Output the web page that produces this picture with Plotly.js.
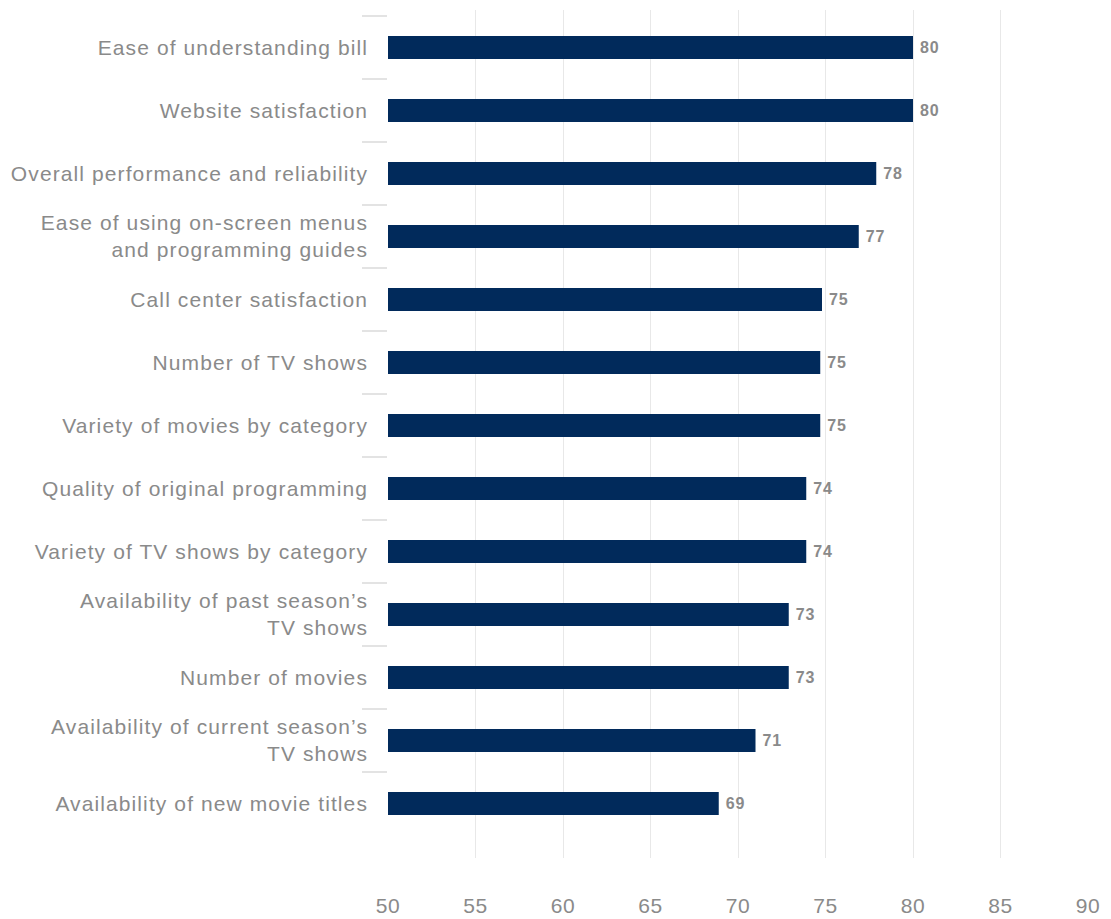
<!DOCTYPE html>
<html>
<head>
<meta charset="utf-8">
<script src="https://cdn.plot.ly/plotly-3.0.1.min.js"></script>
<style>
html,body{margin:0;padding:0;background:#fff;}
#chart{width:1111px;height:919px;}
#chart .ytick text{letter-spacing:1.1px;}
#chart .xtick text{letter-spacing:0.5px;}
#chart .bartext{letter-spacing:1px;}
</style>
</head>
<body>
<div id="chart"></div>
<script>
const categories = [
  "Ease of understanding bill",
  "Website satisfaction",
  "Overall performance and reliability",
  "Ease of using on-screen menus<br>and programming guides",
  "Call center satisfaction",
  "Number of TV shows",
  "Variety of movies by category",
  "Quality of original programming",
  "Variety of TV shows by category",
  "Availability of past season’s<br>TV shows",
  "Number of movies",
  "Availability of current season’s<br>TV shows",
  "Availability of new movie titles"
];
const values = [80.0, 80.0, 77.9, 76.9, 74.8, 74.7, 74.7, 73.9, 73.9, 72.9, 72.9, 71.0, 68.9];
const valueLabels = ["80", "80", "78", "77", "75", "75", "75", "74", "74", "73", "73", "71", "69"];
const xTicks = [50, 55, 60, 65, 70, 75, 80, 85, 90];

const trace = {
  type: "bar",
  orientation: "h",
  x: values,
  y: categories,
  text: valueLabels.map(t => "\u00a0" + t),
  textposition: "outside",
  cliponaxis: false,
  textfont: {family: "Liberation Sans, Arial, sans-serif", size: 16, color: "#8a8a8a", weight: "bold"},
  marker: {color: "#012a5b", line: {width: 0}},
  hoverinfo: "skip"
};

const layout = {
  width: 1111,
  height: 919,
  margin: {l: 388, r: 23, t: 10, b: 61},
  paper_bgcolor: "#ffffff",
  plot_bgcolor: "#ffffff",
  bargap: 0.635,
  showlegend: false,
  font: {family: "Liberation Sans, Arial, sans-serif", color: "#8a8a8a"},
  xaxis: {
    range: [50, 90],
    tickvals: xTicks,
    ticktext: xTicks.map(String),
    showgrid: true,
    gridcolor: "#e8e8e8",
    gridwidth: 1,
    zeroline: false,
    showline: false,
    ticks: "",
    ticklabelstandoff: 33,
    tickfont: {size: 21, color: "#8a8a8a"},
    fixedrange: true
  },
  yaxis: {
    type: "category",
    categoryorder: "array",
    categoryarray: categories,
    range: [12.865, -0.595],
    showgrid: false,
    zeroline: false,
    showline: false,
    ticks: "outside",
    tickson: "boundaries",
    ticklen: 25,
    tickcolor: "#e3e3e3",
    tickwidth: 1.5,
    ticklabelstandoff: 19,
    tickfont: {size: 21, color: "#8a8a8a"},
    fixedrange: true
  }
};

Plotly.newPlot("chart", [trace], layout, {displayModeBar: false, staticPlot: true});
</script>
</body>
</html>
